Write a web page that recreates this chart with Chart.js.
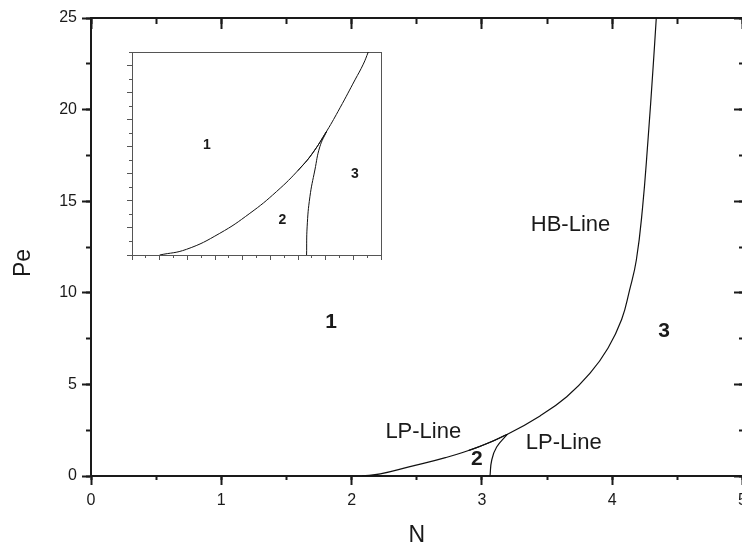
<!DOCTYPE html>
<html>
<head>
<meta charset="utf-8">
<script src="https://cdn.jsdelivr.net/npm/chart.js@4.4.1/dist/chart.umd.min.js"></script>
<style>
  html, body { margin: 0; padding: 0; background: #fff; overflow: hidden; }
  #main  { position: absolute; left: 0; top: 0; width: 753px; height: 550px; }
  #inset { position: absolute; left: 112px; top: 40px; width: 280px; height: 230px; }
</style>
</head>
<body>
<div id="main"><canvas id="mainChart"></canvas></div>
<div id="inset"><canvas id="insetChart"></canvas></div>
<script>
// ─── Data ──────────────────────────────────────────────
// main plot: HB line (upper curve)
const hbN  = [2.08, 2.22, 2.44, 2.72, 2.978, 3.196, 3.446, 3.651, 3.83, 3.968, 4.072, 4.133, 4.185, 4.232, 4.273, 4.314, 4.338];
const hbPe = [0,    0.12, 0.50, 1.00, 1.60,  2.28,  3.28,  4.33,  5.61, 6.99,  8.54,  10.15, 11.79, 14.6,  18.2,  22.35, 25];
// main plot: LP lines meeting at the cusp
const lp1N  = [2.90, 3.05, 3.196];
const lp1Pe = [1.40, 1.80, 2.28];
const lp2N  = [3.062, 3.075, 3.113, 3.196];
const lp2Pe = [0,     0.86,  1.58,  2.28];

// main plot text
const mainText = ['HB-Line', '1', '2', '3', 'LP-Line', 'LP-Line'];
const mainTextN  = [3.68, 1.842, 2.96, 4.397, 2.55, 3.628];
const mainTextPe = [13.68, 8.41, 0.93, 7.91, 2.42, 1.78];
const mainTextBold = [false, true, true, true, false, false];

// inset (unlabelled axes, tick units)
const inAN = [1.0, 1.97, 3.17, 4.26, 5.22, 6.07, 6.55, 7.04, 7.52, 8.06, 8.36, 8.54];
const inAY = [0,   0.21, 0.80, 1.54, 2.34, 3.20, 3.80, 4.58, 5.44, 6.47, 7.05, 7.50];
const inLpN = [6.00, 6.50, 7.04];
const inLpY = [3.12, 3.72, 4.58];
const inBN = [6.31, 6.33, 6.43, 6.61, 6.79, 7.04];
const inBY = [0,    1.04, 2.15, 3.14, 4.00, 4.58];

const insetText = ['1', '2', '3'];
const insetTextN = [2.71, 5.44, 8.06];
const insetTextY = [4.06, 1.29, 2.98];

// ─── Shared config ─────────────────────────────────────
const FONT = "'Liberation Sans', Arial, sans-serif";
const AX = '#1a1a1a';
const IN = '#555';

const pts = (xs, ys) => xs.map((x, i) => ({ x, y: ys[i] }));

function curve(xs, ys, width, color) {
    return {
        data: pts(xs, ys),
        xAxisID: 'x', yAxisID: 'y',
        borderColor: color,
        borderWidth: width,
        pointRadius: 0,
        fill: false,
        tension: 0.45
    };
}

// text drawn at data coordinates
const textLabels = {
    id: 'textLabels',
    afterDatasetsDraw(chart, args, o) {
        const { ctx, scales: { x, y } } = chart;
        ctx.save();
        ctx.fillStyle = AX;
        ctx.textAlign = 'center';
        ctx.textBaseline = 'middle';
        o.text.forEach((t, i) => {
            const bold = o.bold ? o.bold[i] : true;
            ctx.font = (bold ? 'bold ' : '') + (bold ? o.boldSize : o.size) + 'px ' + FONT;
            ctx.fillText(t, x.getPixelForValue(o.xs[i]), y.getPixelForValue(o.ys[i]));
        });
        ctx.restore();
    }
};

// tick-only axis placed on a value of the other axis
function tickAxis(axis, pos, min, max, step, len, width, color, border) {
    return {
        type: 'linear', axis, position: pos, min, max,
        ticks: { stepSize: step, display: false, includeBounds: false },
        grid: { drawOnChartArea: false, drawTicks: len > 0, tickLength: len, tickWidth: width, tickColor: color },
        border: { display: border, color, width }
    };
}

// ─── MAIN CHART ────────────────────────────────────────
new Chart(document.getElementById('mainChart'), {
    type: 'line',
    data: {
        datasets: [
            curve(hbN, hbPe, 1.2, '#111'),
            curve(lp1N, lp1Pe, 1.2, '#111'),
            curve(lp2N, lp2Pe, 1.2, '#111')
        ]
    },
    plugins: [textLabels],
    options: {
        responsive: true,
        maintainAspectRatio: false,
        animation: false,
        events: [],
        layout: { padding: { top: 18, left: 0, right: 0, bottom: 0 } },
        plugins: {
            legend: { display: false },
            tooltip: { enabled: false },
            textLabels: { text: mainText, xs: mainTextN, ys: mainTextPe, bold: mainTextBold, size: 22, boldSize: 21 }
        },
        scales: {
            x: {
                type: 'linear', position: 'bottom', min: 0, max: 5,
                ticks: { stepSize: 1, color: AX, font: { size: 16, family: FONT }, padding: 6, maxRotation: 0, autoSkip: false },
                grid: { drawOnChartArea: false, tickLength: 9, tickWidth: 2, tickColor: AX },
                border: { color: AX, width: 2 },
                title: { display: true, text: 'N', color: AX, font: { size: 23, family: FONT }, padding: { top: 0, bottom: 1 } },
                afterFit: s => { s.height = 74; }
            },
            xm:  tickAxis('x', { y: 0 },  0, 5, 0.5, 4, 2, AX, false),
            xt:  tickAxis('x', { y: 25 }, 0, 5, 1, 10, 2, AX, true),
            xtm: tickAxis('x', { y: 25 }, 0, 5, 0.5, 6, 2, AX, false),
            y: {
                type: 'linear', position: 'left', min: 0, max: 25,
                ticks: { stepSize: 5, color: AX, font: { size: 16, family: FONT }, padding: 5 },
                grid: { drawOnChartArea: false, tickLength: 9, tickWidth: 2, tickColor: AX },
                border: { color: AX, width: 2 },
                title: { display: true, text: 'Pe     ', color: AX, font: { size: 23, family: FONT }, padding: { top: 10, bottom: 0 } },
                afterFit: s => { s.width = 91; }
            },
            ym:  tickAxis('y', { x: 0 }, 0, 25, 2.5, 5, 2, AX, false),
            yr:  tickAxis('y', { x: 5 }, 0, 25, 5, 8, 2, AX, true),
            yrm: tickAxis('y', { x: 5 }, 0, 25, 2.5, 4, 2, AX, false)
        }
    }
});

// ─── INSET ─────────────────────────────────────────────
new Chart(document.getElementById('insetChart'), {
    type: 'line',
    data: {
        datasets: [
            curve(inAN, inAY, 1, '#111'),
            curve(inLpN, inLpY, 1, '#111'),
            curve(inBN, inBY, 1, '#111')
        ]
    },
    plugins: [textLabels],
    options: {
        responsive: true,
        maintainAspectRatio: false,
        animation: false,
        events: [],
        layout: { padding: { top: 12, left: 0, right: 11, bottom: 0 } },
        plugins: {
            legend: { display: false },
            tooltip: { enabled: false },
            textLabels: { text: insetText, xs: insetTextN, ys: insetTextY, size: 14, boldSize: 14 }
        },
        scales: {
            x: {
                type: 'linear', position: 'bottom', min: 0, max: 9,
                ticks: { stepSize: 1, display: false },
                grid: { drawOnChartArea: false, tickLength: 5, tickWidth: 1, tickColor: IN },
                border: { color: IN, width: 1 },
                afterFit: s => { s.height = 15; }
            },
            xm: tickAxis('x', { y: 0 }, 0, 9, 0.5, 3, 1, IN, false),
            xt: tickAxis('x', { y: 7.5 }, 0, 9, 1, 0, 1, IN, true),
            y: {
                type: 'linear', position: 'left', min: 0, max: 7.5,
                ticks: { stepSize: 1, display: false, includeBounds: false },
                grid: { drawOnChartArea: false, tickLength: 5, tickWidth: 1, tickColor: IN },
                border: { color: IN, width: 1 },
                afterFit: s => { s.width = 20; }
            },
            ym: tickAxis('y', { x: 0 }, 0, 7.5, 0.5, 3, 1, IN, false),
            yr: tickAxis('y', { x: 9 }, 0, 7.5, 1, 0, 1, IN, true)
        }
    }
});
</script>
</body>
</html>
